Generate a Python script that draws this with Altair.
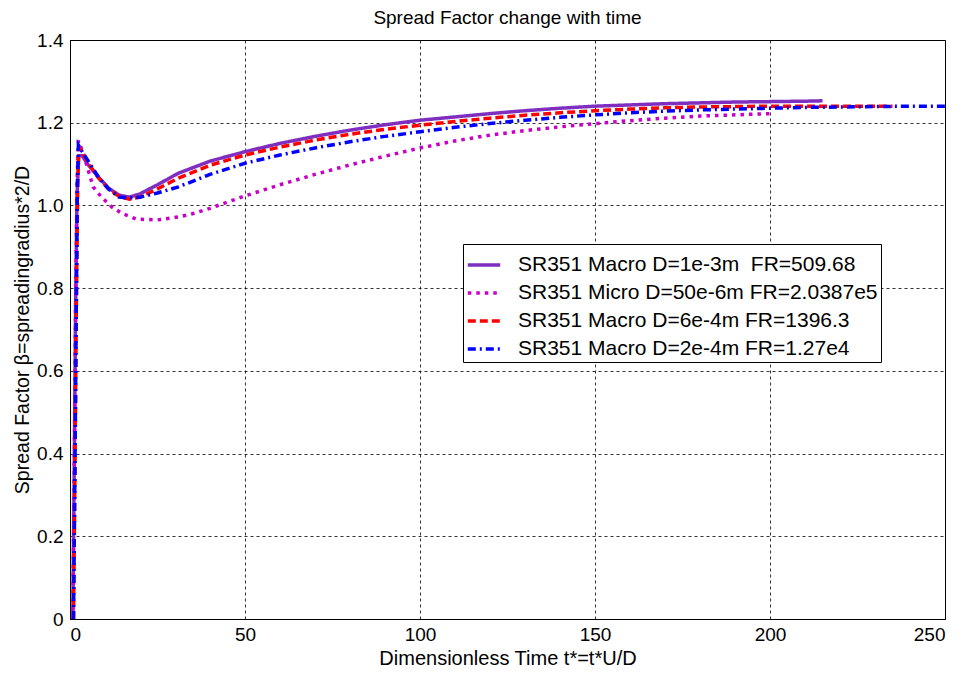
import altair as alt
import pandas as pd

names = [
    "SR351 Macro D=1e-3m\u00a0 FR=509.68",
    "SR351 Micro D=50e-6m FR=2.0387e5",
    "SR351 Macro D=6e-4m FR=1396.3",
    "SR351 Macro D=2e-4m FR=1.27e4",
]
colors = ["#7E2FC0", "#C800C8", "#FF0000", "#0000FF"]
dashes = [[1, 0], [3.5, 5], [8, 4], [8, 4, 2, 4]]
widths = [3.5, 3.5, 2.2, 2.2]

t_purple = [0.8, 1.2, 1.6, 2.0, 2.5, 3.5, 5, 8, 11, 14, 17, 20, 25, 31, 40, 50, 60, 70, 80, 90,
            100, 110, 120, 130, 140, 150, 160, 170, 180, 190, 200, 210, 215]
y_purple = [0, 0.35, 0.75, 1.02, 1.12, 1.12, 1.10, 1.07, 1.042, 1.025, 1.02, 1.028, 1.05, 1.078,
            1.107, 1.13, 1.15, 1.167, 1.182, 1.195, 1.206, 1.214, 1.222, 1.229, 1.235, 1.240,
            1.243, 1.246, 1.248, 1.25, 1.251, 1.252, 1.253]

t_magenta = [0.8, 1.2, 1.6, 2.0, 2.4, 4, 6.6, 9, 12, 15, 19, 25, 31, 35, 40, 45, 50, 60, 70, 80,
             90, 100, 110, 120, 130, 140, 150, 160, 170, 180, 190, 200]
y_magenta = [0, 0.35, 0.75, 1.05, 1.157, 1.12, 1.045, 1.02, 0.996, 0.98, 0.967, 0.965, 0.972,
             0.98, 0.993, 1.008, 1.023, 1.05, 1.075, 1.098, 1.119, 1.139, 1.156, 1.17, 1.181,
             1.19, 1.198, 1.205, 1.211, 1.216, 1.219, 1.222]

t_red = [1.0, 1.4, 1.8, 2.2, 2.5, 3.5, 5, 8, 11, 14, 17, 20, 25, 31, 40, 50, 60, 70, 80, 90, 100,
         110, 120, 130, 140, 150, 160, 170, 180, 190, 200, 210, 220, 235]
y_red = [0, 0.35, 0.75, 1.05, 1.14, 1.13, 1.105, 1.068, 1.04, 1.022, 1.015, 1.02, 1.04, 1.066,
         1.097, 1.122, 1.141, 1.158, 1.172, 1.184, 1.194, 1.203, 1.211, 1.218, 1.224, 1.229,
         1.233, 1.236, 1.238, 1.239, 1.240, 1.240, 1.240, 1.240]

t_blue = [1.0, 1.4, 1.8, 2.1, 2.4, 3.5, 5, 8, 11, 14, 17, 20, 25, 31, 40, 50, 60, 70, 80, 90, 100,
          110, 120, 130, 140, 150, 160, 170, 180, 190, 200, 210, 220, 230, 240, 250]
y_blue = [0, 0.35, 0.75, 1.05, 1.146, 1.13, 1.11, 1.07, 1.04, 1.02, 1.018, 1.02, 1.03, 1.045,
          1.075, 1.102, 1.122, 1.139, 1.154, 1.167, 1.178, 1.189, 1.198, 1.206, 1.213, 1.219,
          1.224, 1.228, 1.231, 1.233, 1.235, 1.237, 1.238, 1.239, 1.24, 1.24]

x_ticks = [0, 50, 100, 150, 200, 250]
y_ticks = [0, 0.2, 0.4, 0.6, 0.8, 1.0, 1.2, 1.4]

rows = []
for name, ts, ys in zip(names, [t_purple, t_magenta, t_red, t_blue],
                        [y_purple, y_magenta, y_red, y_blue]):
    for i, (t, y) in enumerate(zip(ts, ys)):
        rows.append({"series": name, "t": t, "y": y, "i": i})
df = pd.DataFrame(rows)

FONT = "Liberation Sans"

legend = alt.Legend(
    title=None, orient="none", legendX=393, legendY=204,
    labelFontSize=21, labelFont=FONT, labelColor="black",
    symbolType="stroke", symbolSize=1050, labelOffset=16,
    strokeColor="black", fillColor="white", padding=3, rowPadding=0,
    labelLimit=500,
)

chart = alt.Chart(df).mark_line(clip=True).encode(
    x=alt.X("t:Q", scale=alt.Scale(domain=[0, 250], nice=False, zero=False),
            axis=alt.Axis(values=x_ticks, title="Dimensionless Time t*=t*U/D",
                          labelFontSize=19, titleFontSize=20, labelPadding=6, titlePadding=4,
                          ticks=False)),
    y=alt.Y("y:Q", scale=alt.Scale(domain=[0, 1.4], nice=False),
            axis=alt.Axis(values=y_ticks, title="Spread Factor β=spreadingradius*2/D",
                          labelExpr="datum.value == 0 ? '0' : format(datum.value, '.1f')",
                          labelFontSize=19, titleFontSize=19.5, labelPadding=7, titlePadding=4,
                          ticks=False)),
    color=alt.Color("series:N", scale=alt.Scale(domain=names, range=colors), legend=legend),
    strokeDash=alt.StrokeDash("series:N", scale=alt.Scale(domain=names, range=dashes), legend=legend),
    strokeWidth=alt.StrokeWidth("series:N", scale=alt.Scale(domain=names, range=widths), legend=legend),
    order="i:Q",
).properties(
    width=875, height=579,
    title=alt.TitleParams("Spread Factor change with time", fontSize=19, font=FONT,
                          fontWeight="normal", color="black", offset=3),
    autosize=alt.AutoSizeParams(type="none"),
    padding={"left": 62, "top": 32, "right": 8, "bottom": 48},
).configure_axis(
    grid=True, gridColor="black", gridDash=[3, 3], gridWidth=0.8, gridOpacity=1,
    domainColor="black", labelColor="black", titleColor="black",
    labelFont=FONT, titleFont=FONT, titleFontWeight="normal",
).configure_view(
    stroke="black", strokeWidth=1,
)

chart.save("out.html", embed_options={"renderer": "svg", "actions": False})
